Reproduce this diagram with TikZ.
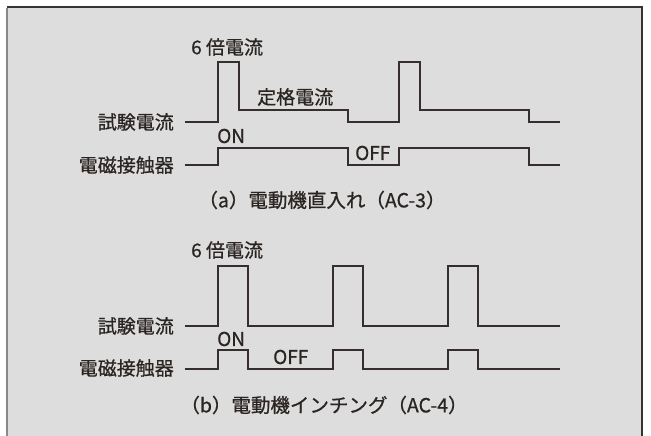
\documentclass[tikz,border=0pt]{standalone}
\usepackage{fontspec}
\setmainfont{Noto Sans CJK JP}[FakeBold=0.7]
\definecolor{bgc}{HTML}{DCDDDC}
\definecolor{wavec}{HTML}{352E2C}
\definecolor{textc}{HTML}{2A2422}
\definecolor{framec}{HTML}{383333}
\definecolor{framel}{HTML}{8C8888}
\begin{document}
\begin{tikzpicture}[x=1pt,y=-1pt,
  wave/.style={line width=1.5pt, draw=wavec, line join=miter},
  lab/.style={font=\fontsize{19}{21}\selectfont, text=textc, inner sep=0pt},
  captext/.style={font=\fontsize{19.5}{21}\selectfont, text=textc, inner sep=0pt}]
\useasboundingbox (0,0) rectangle (651,436);
\fill[bgc] (7,7) rectangle (642,440);
\draw[line width=1.5pt, framec] (7,7) -- (642,7) -- (642,437);
\draw[line width=2pt, framel] (7,7.75) -- (7,437);

% (a) waveforms
\draw[wave] (185,122) -- (218,122) -- (218,62) -- (239,62) -- (239,110) -- (348,110) -- (348,122) -- (399,122) -- (399,62) -- (420,62) -- (420,110) -- (529,110) -- (529,122) -- (560,122);
\draw[wave] (185,165) -- (218,165) -- (218,148) -- (348,148) -- (348,165) -- (399,165) -- (399,148) -- (529,148) -- (529,165) -- (560,165);

% (b) waveforms
\draw[wave] (185,326) -- (218,326) -- (218,266) -- (248,266) -- (248,326) -- (333,326) -- (333,266) -- (363,266) -- (363,326) -- (448,326) -- (448,266) -- (478,266) -- (478,326) -- (560,326);
\draw[wave] (185,369) -- (218,369) -- (218,350) -- (248,350) -- (248,369) -- (333,369) -- (333,350) -- (363,350) -- (363,369) -- (448,369) -- (448,350) -- (478,350) -- (478,369) -- (560,369);

% (a) labels
\node[lab, anchor=east] (ia) at (174,122) {試験電流};
\node[lab, anchor=east] (ca) at (174,165) {電磁接触器};
\node[lab, anchor=west] (pa) at (191,47) {6 倍電流};
\node[lab, anchor=west] (ra) at (257,97) {定格電流};
\node[lab, anchor=west] (ona) at (217,136) {ON};
\node[lab, anchor=west] (offa) at (355,153) {OFF};
\node[captext] (capa) at (322,200) {（a）電動機直入れ（AC-3）};

% (b) labels
\node[lab, anchor=east] (ib) at (174,326) {試験電流};
\node[lab, anchor=east] (cb) at (174,368) {電磁接触器};
\node[lab, anchor=west] (pb) at (191,250) {6 倍電流};
\node[lab, anchor=west] (onb) at (217,339) {ON};
\node[lab, anchor=west] (offb) at (273,357) {OFF};
\node[captext] (capb) at (324,405) {（b）電動機インチング（AC-4）};
\end{tikzpicture}
\end{document}
